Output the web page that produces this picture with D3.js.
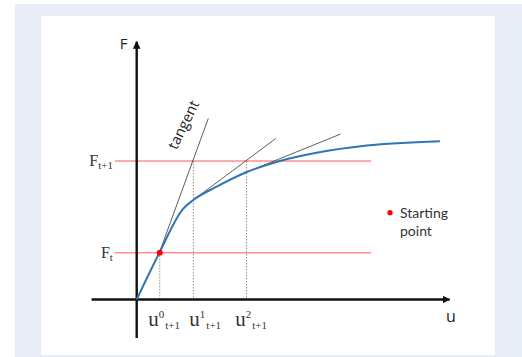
<html>
<head>
  <script src="https://cdn.jsdelivr.net/npm/d3@7"></script>
  <meta charset="UTF-8">
  <style>
  body { margin: 0; background: #fff; }
  svg { display: block; }
  </style>
</head>
<body>
<div id="chart"></div>
<script>

// newton-style iteration on a load / displacement curve, values in plot units
const curveU = [0, 0.72, 1.49, 1.82, 2.57, 3.52, 4.60, 5.78, 7.39, 9.74];
const curveF = [0, 1.80, 3.53, 3.88, 4.40, 4.96, 5.40, 5.72, 6.00, 6.17];

// tangent segments: start / end in (u, F)
const tangentU0 = [0.72, 1.82, 3.52];
const tangentF0 = [1.80, 3.88, 4.96];
const tangentU1 = [2.30, 4.47, 6.55];
const tangentF1 = [7.06, 6.28, 6.45];

// iterates u^k_{t+1} and where their dashed drop line starts
const iterU = [0.74, 1.82, 3.53];
const iterTop = [1.82, 5.40, 5.40];
const iterSup = ['0', '1', '2'];

// load levels
const levelF = [1.82, 5.40];
const levelSub = ['t', 't+1'];
const levelU0 = -0.70, levelU1 = 7.53;

const start = {u: 0.74, F: 1.82};

const W = 522, H = 357;

const svg = d3.select('#chart').append('svg')
  .attr('width', W)
  .attr('height', H);

// background panels
svg.append('rect').attr('x', 15).attr('y', 4).attr('width', W - 15).attr('height', H - 4)
  .attr('fill', '#e8edf7');
svg.append('rect').attr('x', 41).attr('y', 16).attr('width', 454).attr('height', 339)
  .attr('fill', '#fff');

const x = d3.scaleLinear().domain([0, 10]).range([136.7, 448]);
const y = d3.scaleLinear().domain([0, 10]).range([299.5, 43]);

const defs = svg.append('defs');
defs.append('marker')
  .attr('id', 'arrow')
  .attr('viewBox', '0 0 10 10')
  .attr('refX', 9).attr('refY', 5)
  .attr('markerWidth', 3.2).attr('markerHeight', 3.2)
  .attr('orient', 'auto')
  .append('path')
    .attr('d', 'M0,0 L10,5 L0,10 z')
    .attr('fill', '#111');

// load levels F_t, F_{t+1}
svg.selectAll('.level')
  .data(levelF)
  .join('line')
    .attr('class', 'level')
    .attr('x1', x(levelU0)).attr('x2', x(levelU1))
    .attr('y1', d => y(d)).attr('y2', d => y(d))
    .attr('stroke', '#ff8f8f')
    .attr('stroke-width', 1.5);

// dashed drop lines
svg.selectAll('.drop')
  .data(iterU)
  .join('line')
    .attr('class', 'drop')
    .attr('x1', d => x(d)).attr('x2', d => x(d))
    .attr('y1', (d, i) => y(iterTop[i])).attr('y2', y(0))
    .attr('stroke', '#777')
    .attr('stroke-width', 0.8)
    .attr('stroke-dasharray', '1.5,1.5');

// axes
svg.append('line')
  .attr('x1', x(-1.45)).attr('x2', x(10.05))
  .attr('y1', y(0)).attr('y2', y(0))
  .attr('stroke', '#111').attr('stroke-width', 2.4)
  .attr('marker-end', 'url(#arrow)');
svg.append('line')
  .attr('x1', x(0)).attr('x2', x(0))
  .attr('y1', y(-1.5)).attr('y2', y(10.05))
  .attr('stroke', '#111').attr('stroke-width', 2.4)
  .attr('marker-end', 'url(#arrow)');

// tangents
svg.selectAll('.tangent')
  .data(tangentU0)
  .join('line')
    .attr('class', 'tangent')
    .attr('x1', (d, i) => x(d)).attr('y1', (d, i) => y(tangentF0[i]))
    .attr('x2', (d, i) => x(tangentU1[i])).attr('y2', (d, i) => y(tangentF1[i]))
    .attr('stroke', '#333')
    .attr('stroke-width', 0.8);

// the curve
const pts = curveU.map((u, i) => [u, curveF[i]]);
svg.append('path')
  .datum(pts)
  .attr('d', d3.line().x(d => x(d[0])).y(d => y(d[1])).curve(d3.curveMonotoneX))
  .attr('fill', 'none')
  .attr('stroke', '#2e75b6')
  .attr('stroke-width', 2);

// starting point
svg.append('circle')
  .attr('cx', x(start.u)).attr('cy', y(start.F))
  .attr('r', 3).attr('fill', '#f00');

// axis labels
svg.append('text').attr('x', 123.5).attr('y', 48.5).text('F')
  .attr('text-anchor', 'middle')
  .style('font-family', 'Open Sans').style('font-size', '15px').attr('fill', '#222');
svg.append('text').attr('x', 451).attr('y', 322).text('u')
  .attr('text-anchor', 'middle')
  .style('font-family', 'Open Sans').style('font-size', '16px').attr('fill', '#222');

// level labels
const lev = svg.selectAll('.levelLabel')
  .data(levelF)
  .join('text')
    .attr('class', 'levelLabel')
    .attr('x', x(levelU0) - 2)
    .attr('y', d => y(d) + 5)
    .attr('text-anchor', 'end')
    .style('font-family', 'Liberation Serif')
    .style('font-size', '16px')
    .attr('fill', '#333');
lev.append('tspan').text('F');
lev.append('tspan').style('font-size', '11px').attr('dy', 3).text((d, i) => levelSub[i]);

// iterate labels (small nudge per label, as in the original layout)
const labelNudge = [-11.5, -4, -11.3];
const il = svg.selectAll('.iterLabel')
  .data(iterU)
  .join('text')
    .attr('class', 'iterLabel')
    .attr('x', (d, i) => x(d) + labelNudge[i])
    .attr('y', 325.5)
    .style('font-family', 'Liberation Serif')
    .style('font-size', '21px')
    .attr('fill', '#333');
il.append('tspan').text('u');
il.append('tspan').style('font-size', '11px').attr('dy', -8).text((d, i) => iterSup[i]);
il.append('tspan').style('font-size', '11px').attr('dx', 1).attr('dy', 11).text('t+1');

// tangent label
svg.append('text')
  .attr('transform', 'translate(188,127) rotate(-64)')
  .attr('text-anchor', 'middle')
  .style('font-family', 'Open Sans').style('font-size', '14.5px')
  .attr('fill', '#222')
  .text('tangent');

// legend
svg.append('circle').attr('cx', 390).attr('cy', 212.7).attr('r', 2.6).attr('fill', '#f00');
const leg = svg.append('text')
  .style('font-family', 'Lato').style('font-size', '14px').attr('fill', '#333');
leg.append('tspan').attr('x', 400).attr('y', 217.5).text('Starting');
leg.append('tspan').attr('x', 400).attr('y', 235.5).text('point');

</script>
</body>
</html>
